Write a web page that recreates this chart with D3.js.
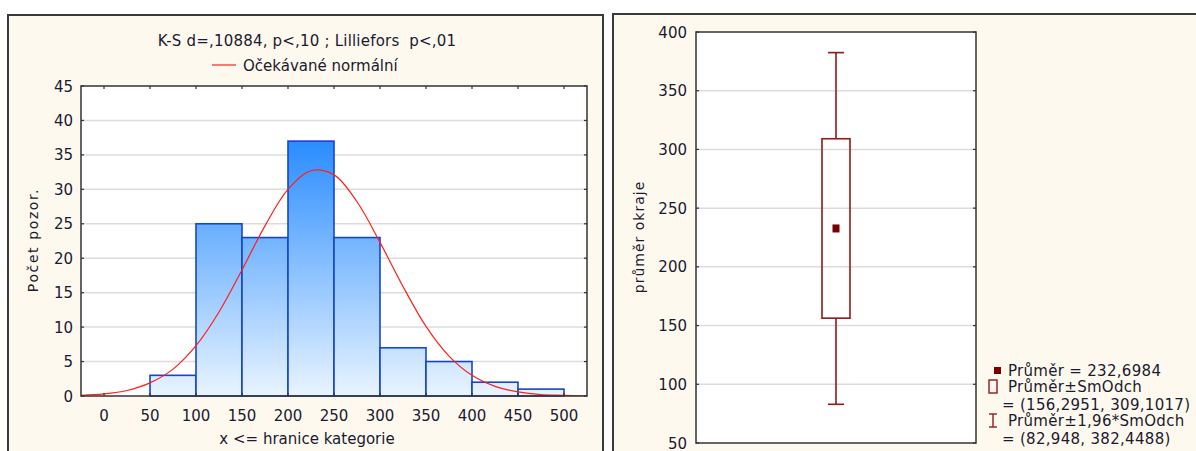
<!DOCTYPE html>
<html>
<head>
<meta charset="utf-8">
<script src="https://cdn.jsdelivr.net/npm/d3@7"></script>
<style>
  html, body { margin: 0; padding: 0; background: #fff; }
  svg text { font-family: "DejaVu Sans", Verdana, sans-serif; fill: #1a1a30; white-space: pre; }
</style>
</head>
<body>
<div id="root"></div>
<script>
// histogram: upper bin boundaries and counts (x <= boundary)
const binEdges = [0, 50, 100, 150, 200, 250, 300, 350, 400, 450, 500];
const counts = [0, 3, 25, 23, 37, 23, 7, 5, 2, 1];
const xTicks = [0, 50, 100, 150, 200, 250, 300, 350, 400, 450, 500];
const yTicks = [0, 5, 10, 15, 20, 25, 30, 35, 40, 45];

// expected normal curve
const curveX = [-25, 0, 25, 50, 75, 100, 125, 150, 175, 200, 225, 250, 275, 300, 325, 350, 375, 400, 425, 450, 475, 500, 525];
const curveY = [0.1, 0.3, 0.8, 1.9, 3.9, 7.3, 12.2, 18.3, 24.7, 30.0, 32.7, 32.1, 28.2, 22.3, 15.9, 10.1, 5.8, 3.0, 1.4, 0.6, 0.2, 0.1, 0.0];

const histTitle = "K-S d=,10884, p<,10 ; Lilliefors  p<,01";
const histLegend = "Očekávané normální";

// box plot summary
const boxMean = 232.6984;
const boxSd = [156.2951, 309.1017];
const box196 = [82.948, 382.4488];
const boxTicks = [50, 100, 150, 200, 250, 300, 350, 400];
const boxLegend = [
  "Průměr = 232,6984",
  "Průměr±SmOdch",
  "= (156,2951, 309,1017)",
  "Průměr±1,96*SmOdch",
  "= (82,948, 382,4488)"
];

const svg = d3.select("#root").append("svg")
  .attr("width", 1196).attr("height", 451);

const cream = "#fef9ee";
const grid = "#dcdcdc";
const dark = "#333";
const fs = 15;

// ---------- left panel ----------
svg.append("rect").attr("x", 8).attr("y", 15).attr("width", 595).attr("height", 470)
  .attr("fill", cream).attr("stroke", "#3a3a3a").attr("stroke-width", 2);

const L = { left: 81, right: 587, top: 86, bottom: 396 };
const x = d3.scaleLinear().domain([-25, 525]).range([L.left, L.right]);
const y = d3.scaleLinear().domain([0, 45]).range([L.bottom, L.top]);

const defs = svg.append("defs");
const grad = defs.append("linearGradient").attr("id", "barGrad")
  .attr("gradientUnits", "userSpaceOnUse")
  .attr("x1", 0).attr("x2", 0).attr("y1", y(40)).attr("y2", y(0));
grad.append("stop").attr("offset", 0).attr("stop-color", "#1a84ff");
grad.append("stop").attr("offset", 1).attr("stop-color", "#e9f4ff");
defs.append("clipPath").attr("id", "clipL").append("rect")
  .attr("x", L.left).attr("y", L.top).attr("width", L.right - L.left).attr("height", L.bottom - L.top);

svg.append("rect").attr("x", L.left).attr("y", L.top)
  .attr("width", L.right - L.left).attr("height", L.bottom - L.top).attr("fill", "#fff");

svg.append("g").selectAll("line").data(yTicks.filter(d => d > 0 && d < 45)).join("line")
  .attr("x1", L.left).attr("x2", L.right).attr("y1", d => y(d)).attr("y2", d => y(d))
  .attr("stroke", grid).attr("stroke-width", 1.5);

const bars = counts.map((c, i) => ({ x0: binEdges[i], x1: binEdges[i + 1], c })).filter(d => d.c > 0);
svg.append("g").selectAll("rect").data(bars).join("rect")
  .attr("x", d => x(d.x0)).attr("y", d => y(d.c))
  .attr("width", d => x(d.x1) - x(d.x0)).attr("height", d => y(0) - y(d.c))
  .attr("fill", "url(#barGrad)").attr("stroke", "#1546c8").attr("stroke-width", 1.6);

const line = d3.line().x(d => x(d[0])).y(d => y(d[1])).curve(d3.curveCatmullRom);
svg.append("path").datum(curveX.map((v, i) => [v, curveY[i]]))
  .attr("clip-path", "url(#clipL)")
  .attr("d", line).attr("fill", "none").attr("stroke", "#ff1f1f").attr("stroke-width", 1.2);

// frame + inward ticks
svg.append("rect").attr("x", L.left).attr("y", L.top)
  .attr("width", L.right - L.left).attr("height", L.bottom - L.top)
  .attr("fill", "none").attr("stroke", dark).attr("stroke-width", 1.5);

const tk = svg.append("g").attr("stroke", dark).attr("stroke-width", 1.2);
xTicks.forEach(t => {
  tk.append("line").attr("x1", x(t)).attr("x2", x(t)).attr("y1", L.top).attr("y2", L.top + 3);
  tk.append("line").attr("x1", x(t)).attr("x2", x(t)).attr("y1", L.bottom).attr("y2", L.bottom - 3);
});
yTicks.forEach(t => {
  tk.append("line").attr("x1", L.left).attr("x2", L.left + 3).attr("y1", y(t)).attr("y2", y(t));
  tk.append("line").attr("x1", L.right).attr("x2", L.right - 3).attr("y1", y(t)).attr("y2", y(t));
});

svg.append("g").selectAll("text").data(yTicks).join("text")
  .attr("x", L.left - 8).attr("y", d => y(d) + 5.5).attr("text-anchor", "end")
  .attr("font-size", fs).text(d => d);
svg.append("g").selectAll("text").data(xTicks).join("text")
  .attr("x", d => x(d)).attr("y", 421).attr("text-anchor", "middle")
  .attr("font-size", fs).text(d => d);

svg.append("text").attr("x", 307).attr("y", 444).attr("text-anchor", "middle")
  .attr("font-size", fs).text("x <= hranice kategorie");
svg.append("text").attr("transform", "translate(38,240) rotate(-90)").attr("text-anchor", "middle")
  .attr("font-size", 14).attr("letter-spacing", 1.6).text("Počet pozor.");

svg.append("text").attr("x", 307).attr("y", 46).attr("text-anchor", "middle")
  .attr("font-size", fs).attr("letter-spacing", 0.2).text(histTitle);
svg.append("line").attr("x1", 212).attr("x2", 236).attr("y1", 65).attr("y2", 65)
  .attr("stroke", "#ff1f1f").attr("stroke-width", 1.2);
svg.append("text").attr("x", 243).attr("y", 70.5).attr("font-size", fs).text(histLegend);

// ---------- right panel ----------
svg.append("rect").attr("x", 613).attr("y", 14).attr("width", 600).attr("height", 470)
  .attr("fill", cream).attr("stroke", "#3a3a3a").attr("stroke-width", 2);

const R = { left: 696, right: 976, top: 32, bottom: 443 };
const yb = d3.scaleLinear().domain([50, 400]).range([R.bottom, R.top]);
const xb = d3.scaleBand().domain(["průměr okraje"]).range([R.left, R.right]);
const cx = xb("průměr okraje") + xb.bandwidth() / 2;

svg.append("rect").attr("x", R.left).attr("y", R.top)
  .attr("width", R.right - R.left).attr("height", R.bottom - R.top).attr("fill", "#fff");
svg.append("g").selectAll("line").data(boxTicks.filter(d => d > 50 && d < 400)).join("line")
  .attr("x1", R.left).attr("x2", R.right).attr("y1", d => yb(d)).attr("y2", d => yb(d))
  .attr("stroke", grid).attr("stroke-width", 1.5);

const red = "#8e1a1a";
const bp = svg.append("g").attr("stroke", red).attr("stroke-width", 1.6).attr("fill", "none");
bp.append("line").attr("x1", cx).attr("x2", cx).attr("y1", yb(box196[1])).attr("y2", yb(boxSd[1]));
bp.append("line").attr("x1", cx).attr("x2", cx).attr("y1", yb(boxSd[0])).attr("y2", yb(box196[0]));
[box196[0], box196[1]].forEach(v => {
  bp.append("line").attr("x1", cx - 8).attr("x2", cx + 8).attr("y1", yb(v)).attr("y2", yb(v));
});
bp.append("rect").attr("x", cx - 14).attr("width", 28)
  .attr("y", yb(boxSd[1])).attr("height", yb(boxSd[0]) - yb(boxSd[1]));
svg.append("rect").attr("x", cx - 3.5).attr("y", yb(boxMean) - 4).attr("width", 7).attr("height", 8)
  .attr("fill", "#7a0000");

svg.append("rect").attr("x", R.left).attr("y", R.top)
  .attr("width", R.right - R.left).attr("height", R.bottom - R.top)
  .attr("fill", "none").attr("stroke", dark).attr("stroke-width", 1.5);
const tkb = svg.append("g").attr("stroke", dark).attr("stroke-width", 1.2);
boxTicks.forEach(t => {
  tkb.append("line").attr("x1", R.left).attr("x2", R.left + 3).attr("y1", yb(t)).attr("y2", yb(t));
  tkb.append("line").attr("x1", R.right).attr("x2", R.right - 3).attr("y1", yb(t)).attr("y2", yb(t));
});
svg.append("g").selectAll("text").data(boxTicks).join("text")
  .attr("x", R.left - 9).attr("y", d => yb(d) + 5.5).attr("text-anchor", "end")
  .attr("font-size", fs).text(d => d);
svg.append("text").attr("transform", "translate(644,237) rotate(-90)").attr("text-anchor", "middle")
  .attr("font-size", 14).attr("letter-spacing", 1.0).text("průměr okraje");

// legend
const lg = svg.append("g").attr("font-size", fs).attr("letter-spacing", 0.3);
const lgY = [376, 392, 410, 426, 444];
lg.selectAll("text").data(boxLegend).join("text")
  .attr("x", (d, i) => (i === 2 || i === 4) ? 1002 : 1008)
  .attr("y", (d, i) => lgY[i]).text(d => d);
svg.append("rect").attr("x", 994).attr("y", 367).attr("width", 7).attr("height", 7).attr("fill", "#7a0000");
svg.append("rect").attr("x", 989).attr("y", 380).attr("width", 8).attr("height", 13)
  .attr("fill", "none").attr("stroke", red).attr("stroke-width", 1.4);
const ic = svg.append("g").attr("stroke", red).attr("stroke-width", 1.4);
ic.append("line").attr("x1", 993).attr("x2", 993).attr("y1", 414).attr("y2", 427);
ic.append("line").attr("x1", 989).attr("x2", 997).attr("y1", 414).attr("y2", 414);
ic.append("line").attr("x1", 989).attr("x2", 997).attr("y1", 427).attr("y2", 427);
</script>
</body>
</html>
